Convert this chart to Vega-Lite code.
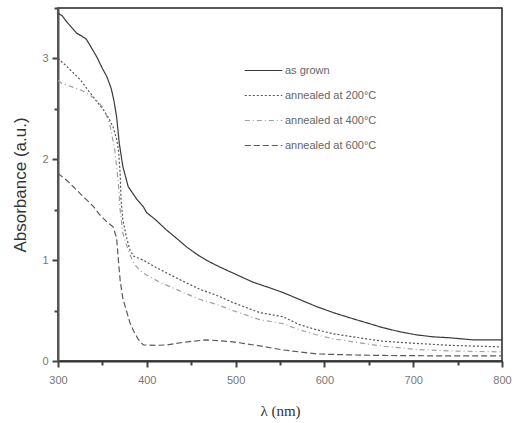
{
  "$schema": "https://vega.github.io/schema/vega-lite/v6.json",
  "autosize": "none",
  "width": 444,
  "height": 353,
  "padding": {"left": 58, "top": 8, "right": 13, "bottom": 62},
  "background": "white",
  "config": {
    "view": {"stroke": "#222", "strokeWidth": 1.5},
    "font": "Liberation Sans"
  },
  "datasets": {
    "spectra": [
      {"lambda": 300, "A": 3.45, "s": "as grown"},
      {"lambda": 305, "A": 3.42, "s": "as grown"},
      {"lambda": 310, "A": 3.36, "s": "as grown"},
      {"lambda": 316, "A": 3.3, "s": "as grown"},
      {"lambda": 321, "A": 3.25, "s": "as grown"},
      {"lambda": 327, "A": 3.22, "s": "as grown"},
      {"lambda": 332, "A": 3.19, "s": "as grown"},
      {"lambda": 338, "A": 3.1, "s": "as grown"},
      {"lambda": 344, "A": 3.01, "s": "as grown"},
      {"lambda": 350, "A": 2.9, "s": "as grown"},
      {"lambda": 355, "A": 2.82, "s": "as grown"},
      {"lambda": 360, "A": 2.7, "s": "as grown"},
      {"lambda": 363, "A": 2.58, "s": "as grown"},
      {"lambda": 366, "A": 2.42, "s": "as grown"},
      {"lambda": 369, "A": 2.16, "s": "as grown"},
      {"lambda": 373, "A": 1.93, "s": "as grown"},
      {"lambda": 379, "A": 1.73, "s": "as grown"},
      {"lambda": 389, "A": 1.6, "s": "as grown"},
      {"lambda": 396, "A": 1.53, "s": "as grown"},
      {"lambda": 400, "A": 1.47, "s": "as grown"},
      {"lambda": 410, "A": 1.4, "s": "as grown"},
      {"lambda": 422, "A": 1.3, "s": "as grown"},
      {"lambda": 433, "A": 1.22, "s": "as grown"},
      {"lambda": 445, "A": 1.13, "s": "as grown"},
      {"lambda": 456, "A": 1.06, "s": "as grown"},
      {"lambda": 467, "A": 1.0, "s": "as grown"},
      {"lambda": 478, "A": 0.95, "s": "as grown"},
      {"lambda": 490, "A": 0.9, "s": "as grown"},
      {"lambda": 505, "A": 0.84, "s": "as grown"},
      {"lambda": 520, "A": 0.78, "s": "as grown"},
      {"lambda": 537, "A": 0.73, "s": "as grown"},
      {"lambda": 553, "A": 0.68, "s": "as grown"},
      {"lambda": 572, "A": 0.61, "s": "as grown"},
      {"lambda": 591, "A": 0.54, "s": "as grown"},
      {"lambda": 610, "A": 0.48, "s": "as grown"},
      {"lambda": 628, "A": 0.43, "s": "as grown"},
      {"lambda": 647, "A": 0.38, "s": "as grown"},
      {"lambda": 666, "A": 0.33, "s": "as grown"},
      {"lambda": 685, "A": 0.29, "s": "as grown"},
      {"lambda": 703, "A": 0.26, "s": "as grown"},
      {"lambda": 722, "A": 0.24, "s": "as grown"},
      {"lambda": 741, "A": 0.23, "s": "as grown"},
      {"lambda": 767, "A": 0.21, "s": "as grown"},
      {"lambda": 800, "A": 0.21, "s": "as grown"},

      {"lambda": 300, "A": 3.0, "s": "annealed at 200°C"},
      {"lambda": 310, "A": 2.92, "s": "annealed at 200°C"},
      {"lambda": 318, "A": 2.85, "s": "annealed at 200°C"},
      {"lambda": 325, "A": 2.79, "s": "annealed at 200°C"},
      {"lambda": 336, "A": 2.66, "s": "annealed at 200°C"},
      {"lambda": 344, "A": 2.57, "s": "annealed at 200°C"},
      {"lambda": 351, "A": 2.49, "s": "annealed at 200°C"},
      {"lambda": 357, "A": 2.41, "s": "annealed at 200°C"},
      {"lambda": 362, "A": 2.32, "s": "annealed at 200°C"},
      {"lambda": 366, "A": 2.2, "s": "annealed at 200°C"},
      {"lambda": 368, "A": 2.1, "s": "annealed at 200°C"},
      {"lambda": 370, "A": 1.86, "s": "annealed at 200°C"},
      {"lambda": 371, "A": 1.6, "s": "annealed at 200°C"},
      {"lambda": 373, "A": 1.4, "s": "annealed at 200°C"},
      {"lambda": 377, "A": 1.23, "s": "annealed at 200°C"},
      {"lambda": 381, "A": 1.1, "s": "annealed at 200°C"},
      {"lambda": 385, "A": 1.04, "s": "annealed at 200°C"},
      {"lambda": 396, "A": 1.0, "s": "annealed at 200°C"},
      {"lambda": 410, "A": 0.93, "s": "annealed at 200°C"},
      {"lambda": 423, "A": 0.87, "s": "annealed at 200°C"},
      {"lambda": 441, "A": 0.79, "s": "annealed at 200°C"},
      {"lambda": 460, "A": 0.71, "s": "annealed at 200°C"},
      {"lambda": 479, "A": 0.65, "s": "annealed at 200°C"},
      {"lambda": 497, "A": 0.58, "s": "annealed at 200°C"},
      {"lambda": 512, "A": 0.53, "s": "annealed at 200°C"},
      {"lambda": 527, "A": 0.48, "s": "annealed at 200°C"},
      {"lambda": 553, "A": 0.44, "s": "annealed at 200°C"},
      {"lambda": 572, "A": 0.36, "s": "annealed at 200°C"},
      {"lambda": 591, "A": 0.31, "s": "annealed at 200°C"},
      {"lambda": 610, "A": 0.27, "s": "annealed at 200°C"},
      {"lambda": 628, "A": 0.245, "s": "annealed at 200°C"},
      {"lambda": 647, "A": 0.22, "s": "annealed at 200°C"},
      {"lambda": 666, "A": 0.196, "s": "annealed at 200°C"},
      {"lambda": 685, "A": 0.185, "s": "annealed at 200°C"},
      {"lambda": 703, "A": 0.175, "s": "annealed at 200°C"},
      {"lambda": 741, "A": 0.155, "s": "annealed at 200°C"},
      {"lambda": 800, "A": 0.14, "s": "annealed at 200°C"},

      {"lambda": 300, "A": 2.78, "s": "annealed at 400°C"},
      {"lambda": 305, "A": 2.75, "s": "annealed at 400°C"},
      {"lambda": 315, "A": 2.72, "s": "annealed at 400°C"},
      {"lambda": 325, "A": 2.69, "s": "annealed at 400°C"},
      {"lambda": 335, "A": 2.64, "s": "annealed at 400°C"},
      {"lambda": 343, "A": 2.59, "s": "annealed at 400°C"},
      {"lambda": 351, "A": 2.51, "s": "annealed at 400°C"},
      {"lambda": 358, "A": 2.36, "s": "annealed at 400°C"},
      {"lambda": 364, "A": 2.09, "s": "annealed at 400°C"},
      {"lambda": 368, "A": 1.76, "s": "annealed at 400°C"},
      {"lambda": 370, "A": 1.5, "s": "annealed at 400°C"},
      {"lambda": 373, "A": 1.27, "s": "annealed at 400°C"},
      {"lambda": 379, "A": 1.1, "s": "annealed at 400°C"},
      {"lambda": 385, "A": 0.97, "s": "annealed at 400°C"},
      {"lambda": 392, "A": 0.9, "s": "annealed at 400°C"},
      {"lambda": 400, "A": 0.85, "s": "annealed at 400°C"},
      {"lambda": 415, "A": 0.78, "s": "annealed at 400°C"},
      {"lambda": 441, "A": 0.68, "s": "annealed at 400°C"},
      {"lambda": 460, "A": 0.61, "s": "annealed at 400°C"},
      {"lambda": 479, "A": 0.56, "s": "annealed at 400°C"},
      {"lambda": 497, "A": 0.5, "s": "annealed at 400°C"},
      {"lambda": 527, "A": 0.41, "s": "annealed at 400°C"},
      {"lambda": 553, "A": 0.37, "s": "annealed at 400°C"},
      {"lambda": 572, "A": 0.31, "s": "annealed at 400°C"},
      {"lambda": 591, "A": 0.26, "s": "annealed at 400°C"},
      {"lambda": 610, "A": 0.22, "s": "annealed at 400°C"},
      {"lambda": 628, "A": 0.196, "s": "annealed at 400°C"},
      {"lambda": 647, "A": 0.17, "s": "annealed at 400°C"},
      {"lambda": 666, "A": 0.147, "s": "annealed at 400°C"},
      {"lambda": 703, "A": 0.115, "s": "annealed at 400°C"},
      {"lambda": 741, "A": 0.1, "s": "annealed at 400°C"},
      {"lambda": 800, "A": 0.09, "s": "annealed at 400°C"},

      {"lambda": 300, "A": 1.86, "s": "annealed at 600°C"},
      {"lambda": 310, "A": 1.79, "s": "annealed at 600°C"},
      {"lambda": 317, "A": 1.73, "s": "annealed at 600°C"},
      {"lambda": 325, "A": 1.66, "s": "annealed at 600°C"},
      {"lambda": 332, "A": 1.6, "s": "annealed at 600°C"},
      {"lambda": 340, "A": 1.53, "s": "annealed at 600°C"},
      {"lambda": 347, "A": 1.45, "s": "annealed at 600°C"},
      {"lambda": 355, "A": 1.38, "s": "annealed at 600°C"},
      {"lambda": 362, "A": 1.33, "s": "annealed at 600°C"},
      {"lambda": 366, "A": 1.22, "s": "annealed at 600°C"},
      {"lambda": 368, "A": 1.0, "s": "annealed at 600°C"},
      {"lambda": 370, "A": 0.8, "s": "annealed at 600°C"},
      {"lambda": 373, "A": 0.62, "s": "annealed at 600°C"},
      {"lambda": 377, "A": 0.5, "s": "annealed at 600°C"},
      {"lambda": 381, "A": 0.38, "s": "annealed at 600°C"},
      {"lambda": 385, "A": 0.3, "s": "annealed at 600°C"},
      {"lambda": 390, "A": 0.22, "s": "annealed at 600°C"},
      {"lambda": 396, "A": 0.16, "s": "annealed at 600°C"},
      {"lambda": 410, "A": 0.155, "s": "annealed at 600°C"},
      {"lambda": 423, "A": 0.16, "s": "annealed at 600°C"},
      {"lambda": 441, "A": 0.185, "s": "annealed at 600°C"},
      {"lambda": 467, "A": 0.21, "s": "annealed at 600°C"},
      {"lambda": 497, "A": 0.19, "s": "annealed at 600°C"},
      {"lambda": 527, "A": 0.15, "s": "annealed at 600°C"},
      {"lambda": 553, "A": 0.11, "s": "annealed at 600°C"},
      {"lambda": 591, "A": 0.07, "s": "annealed at 600°C"},
      {"lambda": 630, "A": 0.06, "s": "annealed at 600°C"},
      {"lambda": 666, "A": 0.055, "s": "annealed at 600°C"},
      {"lambda": 741, "A": 0.05, "s": "annealed at 600°C"},
      {"lambda": 800, "A": 0.05, "s": "annealed at 600°C"}
    ]
  },
  "data": {"name": "spectra"},
  "mark": {"type": "line", "strokeWidth": 1.2, "clip": true},
  "encoding": {
    "x": {
      "field": "lambda",
      "type": "quantitative",
      "scale": {"domain": [300, 800], "nice": false, "zero": false},
      "axis": {
        "title": "λ (nm)",
        "titleFont": "Liberation Serif",
        "titleFontSize": 15,
        "titleFontWeight": "normal",
        "titleColor": "#333",
        "titlePadding": 18,
        "values": [300, 350, 400, 450, 500, 550, 600, 650, 700, 750, 800],
        "labelExpr": "datum.value % 100 === 0 ? datum.label : ''",
        "labelFontSize": 11,
        "labelColor": "#777",
        "labelPadding": 7,
        "tickSize": {"condition": {"test": "datum.value % 100 === 0", "value": 6}, "value": 4},
        "tickColor": "#444",
        "tickWidth": 2,
        "domainColor": "#333",
        "domainWidth": 2,
        "grid": false,
        "labelFlush": false
      }
    },
    "y": {
      "field": "A",
      "type": "quantitative",
      "scale": {"domain": [0, 3.5], "nice": false},
      "axis": {
        "title": "Absorbance (a.u.)",
        "titleFontSize": 17,
        "titleFontWeight": "normal",
        "titleColor": "#333",
        "titlePadding": 12,
        "values": [0, 0.5, 1, 1.5, 2, 2.5, 3, 3.5],
        "labelExpr": "datum.value % 1 === 0 && datum.value < 3.5 ? format(datum.value, 'd') : ''",
        "labelFontSize": 11,
        "labelColor": "#777",
        "labelPadding": 4,
        "tickSize": {"condition": {"test": "datum.value % 1 === 0", "value": 6}, "value": 4},
        "tickColor": "#444",
        "tickWidth": 2,
        "domainColor": "#555",
        "domainWidth": 2,
        "grid": false,
        "labelFlush": false
      }
    },
    "color": {
      "field": "s",
      "type": "nominal",
      "sort": ["as grown", "annealed at 200°C", "annealed at 400°C", "annealed at 600°C"],
      "scale": {
        "domain": ["as grown", "annealed at 200°C", "annealed at 400°C", "annealed at 600°C"],
        "range": ["#3a3a3a", "#555555", "#a0a0a0", "#5a5a5a"]
      },
      "legend": {
        "title": null,
        "orient": "none",
        "legendX": 186,
        "legendY": 43,
        "symbolType": "stroke",
        "symbolSize": 1400,
        "symbolStrokeWidth": 1.2,
        "labelFontSize": 11,
        "labelColor": "#666",
        "labelOffset": 2,
        "rowPadding": -15
      }
    },
    "strokeDash": {
      "field": "s",
      "type": "nominal",
      "sort": ["as grown", "annealed at 200°C", "annealed at 400°C", "annealed at 600°C"],
      "scale": {
        "domain": ["as grown", "annealed at 200°C", "annealed at 400°C", "annealed at 600°C"],
        "range": [[1, 0], [2, 2], [5, 3, 1, 3], [6, 3]]
      },
      "legend": null
    }
  }
}
